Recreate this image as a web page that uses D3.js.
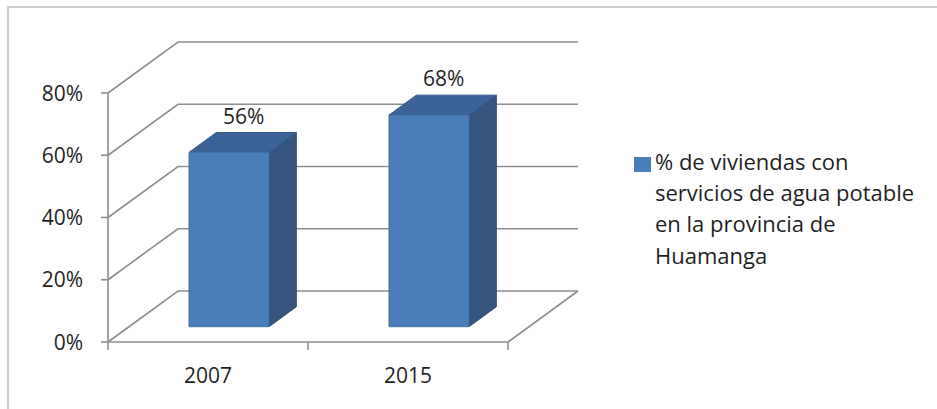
<!DOCTYPE html>
<html>
<head>
<meta charset="utf-8">
<script src="https://cdn.jsdelivr.net/npm/d3@7"></script>
<style>
  html, body { margin: 0; padding: 0; background: #fff; }
  svg { display: block; }
  text { font-family: "Open Sans", sans-serif; fill: #1f1f1f; }
</style>
</head>
<body>
<svg id="chart" width="937" height="409"></svg>
<script>
// ---- data ----
const categories = ["2007", "2015"];
const values = [0.56, 0.68];
const valueLabels = ["56%", "68%"];
const yTicks = [0, 0.2, 0.4, 0.6, 0.8];
const legendLines = ["% de viviendas con", "servicios de agua potable", "en la provincia de", "Huamanga"];

// ---- layout ----
const W = 937, H = 409;
const svg = d3.select("#chart");
const gridColor = "#8e8e8e";

const x = d3.scaleBand().domain(categories).range([108, 508]).paddingInner(0.6).paddingOuter(0.3);
const y = d3.scaleLinear().domain([0, 0.8]).range([342, 93]);
// depth projection: depth 0 = front plane, 1 = back wall
const DX = 70, DY = -51;
const px = (xv, d) => xv + DX * d;
const py = (yv, d) => yv + DY * d;

// outer frame (top + left edges)
svg.append("path")
  .attr("d", `M8,${H} L8,7 L${W},7`)
  .attr("fill", "none").attr("stroke", "#cdcdcd").attr("stroke-width", 2.2);

const grid = svg.append("g").attr("fill", "none").attr("stroke", gridColor).attr("stroke-width", 1.6);
const x0 = x.range()[0], x1 = x.range()[1];
// side wall diagonals + back wall horizontals
yTicks.forEach(t => {
  grid.append("path").attr("d",
    `M${x0},${y(t)} L${px(x0,1)},${py(y(t),1)} L${px(x1,1)},${py(y(t),1)}`);
});
// floor right edge
grid.append("path").attr("d", `M${x1},${y(0)} L${px(x1,1)},${py(y(0),1)}`);

// front axes
const axes = svg.append("g").attr("fill", "none").attr("stroke", gridColor).attr("stroke-width", 1.6);
axes.append("path").attr("d", `M${x0},${y(0.8)} L${x0},${y(0)} L${x1},${y(0)}`);
yTicks.forEach(t => axes.append("path").attr("d", `M${x0-7},${y(t)} L${x0},${y(t)}`));
[x0, (x0 + x1) / 2, x1].forEach(v => axes.append("path").attr("d", `M${v},${y(0)} L${v},${y(0)+8}`));

// y tick labels
svg.append("g").selectAll("text").data(yTicks).join("text")
  .attr("x", 83).attr("y", d => y(d) + 7.5)
  .attr("text-anchor", "end").attr("font-size", 21)
  .text(d => d3.format(".0%")(d));

// x labels
svg.append("g").selectAll("text").data(categories).join("text")
  .attr("x", d => x(d) + x.bandwidth() / 2).attr("y", 383)
  .attr("text-anchor", "middle").attr("font-size", 21)
  .text(d => d);

// bars (3D)
const dFront = 0.3, dBack = 0.69;
const bars = svg.append("g");
categories.forEach((c, i) => {
  const xl = x(c), xr = x(c) + x.bandwidth();
  const yb = y(0), yt = y(values[i]);
  const g = bars.append("g").attr("stroke-linejoin", "round");
  // side face
  g.append("path").attr("d",
    `M${px(xr,dFront)},${py(yt,dFront)} L${px(xr,dBack)},${py(yt,dBack)} L${px(xr,dBack)},${py(yb,dBack)} L${px(xr,dFront)},${py(yb,dFront)} Z`)
    .attr("fill", "#35557f").attr("stroke", "#2e4a70").attr("stroke-width", 1);
  // top face
  g.append("path").attr("d",
    `M${px(xl,dFront)},${py(yt,dFront)} L${px(xl,dBack)},${py(yt,dBack)} L${px(xr,dBack)},${py(yt,dBack)} L${px(xr,dFront)},${py(yt,dFront)} Z`)
    .attr("fill", "#3c6398").attr("stroke", "#34588a").attr("stroke-width", 1);
  // front face
  g.append("rect")
    .attr("x", px(xl,dFront)).attr("y", py(yt,dFront))
    .attr("width", xr - xl).attr("height", yb - yt)
    .attr("fill", "#4a7ebb").attr("stroke", "#41709f").attr("stroke-width", 1);
  // value label
  svg.append("text")
    .attr("x", px((xl + xr) / 2, (dFront + dBack) / 2) + 1)
    .attr("y", py(yt, dBack) - 9)
    .attr("text-anchor", "middle").attr("font-size", 21)
    .text(valueLabels[i]);
});

// legend
const lg = svg.append("g");
lg.append("rect").attr("x", 634).attr("y", 157).attr("width", 17).attr("height", 15).attr("fill", "#4a7ebb");
lg.selectAll("text").data(legendLines).join("text")
  .attr("x", 655).attr("y", (d, i) => 170 + i * 31.2)
  .attr("font-size", 22)
  .text(d => d);
</script>
</body>
</html>
